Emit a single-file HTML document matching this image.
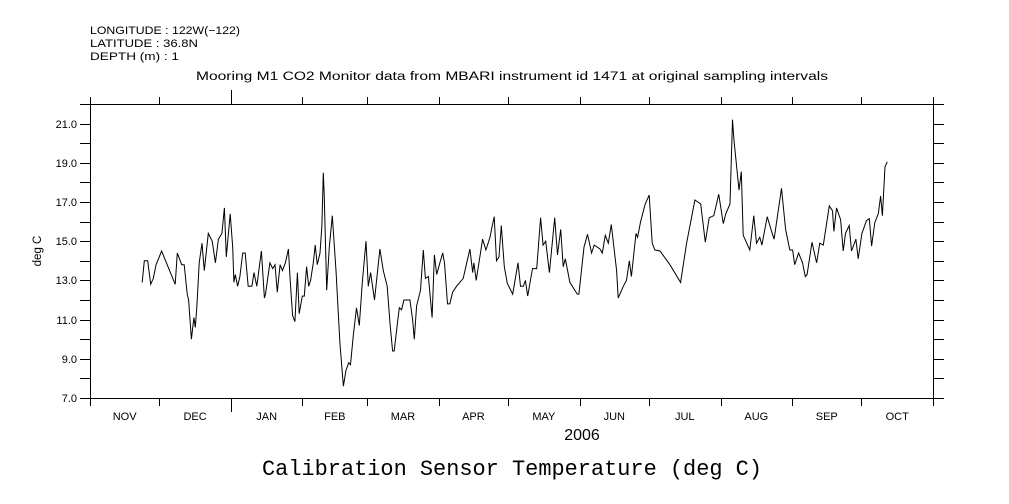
<!DOCTYPE html>
<html><head><meta charset="utf-8"><style>
body{margin:0;background:#fff;width:1009px;height:504px;overflow:hidden}
svg{display:block}
text{font-family:"Liberation Sans",sans-serif;fill:#000}
</style></head><body>
<svg id="chart" width="1009" height="504" viewBox="0 0 1009 504">
<text x="90" y="34" font-size="11" textLength="150" lengthAdjust="spacingAndGlyphs">LONGITUDE : 122W(−122)</text>
<text x="90" y="47" font-size="11" textLength="108" lengthAdjust="spacingAndGlyphs">LATITUDE : 36.8N</text>
<text x="90" y="60" font-size="11" textLength="89" lengthAdjust="spacingAndGlyphs">DEPTH (m) : 1</text>
<text x="196" y="80" font-size="11.5" textLength="632" lengthAdjust="spacingAndGlyphs">Mooring M1 CO2 Monitor data from MBARI instrument id 1471 at original sampling intervals</text>
<text x="41" y="251" font-size="11.5" text-anchor="middle" transform="rotate(-90 41 251)">deg C</text>
<text x="582" y="440" font-size="16" text-anchor="middle">2006</text>
<text x="262" y="475" font-size="22" textLength="500" lengthAdjust="spacingAndGlyphs" style="font-family:'Liberation Mono',monospace">Calibration Sensor Temperature (deg C)</text>
<g id="axes"></g>
<path id="series" fill="none" stroke="#000" stroke-width="1"/>
</svg>
<script>
const days=[22.6,23.5,25.0,26.3,27.4,28.6,31.0,36.9,37.8,39.7,40.8,42.1,42.7,43.9,45.0,45.6,46.3,47.3,48.5,49.5,51.2,52.9,54.3,55.6,57.1,58.2,59.0,60.7,61.8,62.3,62.9,63.9,64.9,66.1,67.2,68.5,70.1,71.0,72.2,74.2,75.5,76.0,77.9,79.1,80.1,81.1,82.3,83.3,84.6,85.9,86.7,87.7,88.7,89.8,90.6,91.9,92.8,93.8,94.7,95.5,96.7,97.5,98.4,99.6,100.4,101.0,101.4,102.5,103.6,104.9,106.5,108.2,109.7,110.8,112.0,112.8,114.0,115.4,116.6,117.9,119.5,120.5,121.5,123.2,125.5,127.0,128.7,129.9,131.0,131.7,132.8,133.9,134.9,135.9,137.4,138.5,139.7,140.4,141.4,143.1,144.3,145.2,146.5,148.1,149.1,150.1,151.5,152.7,153.5,154.8,155.8,157.0,158.7,161.6,164.5,165.7,166.2,167.2,170.0,171.4,173.2,174.0,175.0,176.0,177.1,178.1,179.4,180.7,183.0,185.3,186.4,187.6,188.5,189.5,191.6,193.4,195.1,196.2,197.3,198.9,201.2,202.4,203.8,204.9,205.8,207.8,211.0,211.7,213.9,215.4,217.2,218.3,220.8,221.8,223.1,224.4,225.7,228.0,228.7,230.9,232.3,233.5,234.4,236.4,237.1,238.4,240.4,242.1,243.4,244.6,246.8,251.1,255.7,258.3,261.9,264.4,266.4,268.1,270.1,272.2,274.2,275.3,277.1,278.2,278.8,281.0,282.0,282.8,285.7,287.4,288.6,290.0,290.9,293.2,295.1,296.2,299.4,301.2,303.0,304.2,305.1,306.8,308.5,309.7,310.5,312.6,314.6,316.0,317.5,320.1,321.5,322.1,323.2,325.0,326.1,327.1,328.7,329.7,331.6,332.6,334.2,336.2,337.4,338.4,339.8,341.3,342.3,343.1,344.2,345.2];
const temps=[12.9,14.0,14.0,12.8,13.1,13.8,14.5,12.8,14.4,13.8,13.8,12.3,12.0,10.0,11.1,10.6,11.7,13.9,14.9,13.5,15.4,15.0,13.9,15.1,15.4,16.7,14.2,16.4,14.7,12.9,13.3,12.7,13.2,14.4,14.4,12.7,12.7,13.4,12.7,14.5,12.1,12.3,13.9,13.6,13.8,12.4,13.8,13.5,13.9,14.6,13.0,11.2,10.9,13.4,11.3,12.2,12.2,13.7,12.7,13.0,13.9,14.8,13.8,14.4,15.8,18.5,17.4,12.5,14.7,16.3,13.5,9.8,7.6,8.4,8.8,8.7,10.2,11.6,10.7,12.9,15.0,12.7,13.4,12.0,14.6,13.5,12.7,10.8,9.4,9.4,10.5,11.6,11.5,12.0,12.0,12.0,11.0,10.0,11.7,12.5,14.55,13.1,13.2,11.1,14.3,13.3,13.9,14.4,13.9,11.8,11.8,12.4,12.7,13.1,14.6,13.4,13.9,13.0,15.1,14.55,15.2,15.7,16.25,14.0,14.2,15.8,13.7,12.85,12.3,13.9,12.7,12.7,13.0,12.2,13.6,13.6,16.2,14.8,15.0,13.4,16.2,14.3,15.6,13.7,14.1,12.9,12.3,12.3,14.7,15.35,14.4,14.8,14.6,14.4,15.3,14.9,15.85,13.5,12.1,12.7,13.0,14.0,13.2,15.4,15.2,16.0,16.9,17.35,14.9,14.55,14.5,13.8,12.9,14.9,17.1,16.9,14.95,16.2,16.3,17.4,15.9,16.4,16.9,21.2,20.2,17.6,18.55,15.3,14.55,16.3,14.9,15.2,14.8,16.25,15.5,15.1,17.7,15.6,14.55,14.55,13.8,14.4,13.9,13.2,13.3,14.95,13.9,14.9,14.8,16.8,16.55,15.5,16.7,16.1,14.5,15.4,15.8,14.5,15.1,14.1,15.4,16.05,16.15,14.75,15.95,16.4,17.3,16.3,18.8,19.05];
const monthLabels=["NOV","DEC","JAN","FEB","MAR","APR","MAY","JUN","JUL","AUG","SEP","OCT"];
const monthStarts=[0,30,61,92,120,151,181,212,242,273,304,334,365];
const yTickLabels=["7.0","9.0","11.0","13.0","15.0","17.0","19.0","21.0"];

const X0=90,X1=933,Y0=398,Y1=104,DMAX=365,VMIN=7,VMAX=22;
const xs=d=>X0+(X1-X0)*d/DMAX;
const ys=v=>Y0-(Y0-Y1)*(v-VMIN)/(VMAX-VMIN);
const NS="http://www.w3.org/2000/svg";
const ax=document.getElementById('axes');
function line(x1,y1,x2,y2,name){const l=document.createElementNS(NS,'line');
l.setAttribute('x1',x1);l.setAttribute('y1',y1);l.setAttribute('x2',x2);l.setAttribute('y2',y2);
l.setAttribute('stroke','#000');l.setAttribute('stroke-width','1');


ax.appendChild(l);}
function txt(x,y,s,anchor,name){const t=document.createElementNS(NS,'text');
t.setAttribute('x',x);t.setAttribute('y',y);t.setAttribute('font-size','11');t.setAttribute('text-anchor',anchor);t.textContent=s;


ax.appendChild(t);}
line(X0+.5,Y1,X0+.5,Y0,'y-axis-left');
line(X1+.5,Y1-4,X1+.5,Y0+5,'y-axis-right');
line(X0,Y1+.5,X1,Y1+.5,'x-axis-top');
line(X0,Y0+.5,X1,Y0+.5,'x-axis-bottom');
for(let v=VMIN;v<=VMAX;v++){const y=Math.round(ys(v))+.5;
line(X0-10,y,X0,y,'y-tick-left');line(X1,y,X1+11,y,'y-tick-right');}
yTickLabels.forEach(s=>{txt(X0-13,Math.round(ys(parseFloat(s)))+4,s,'end','y-tick-label');});
monthStarts.forEach((d,i)=>{const x=Math.round(xs(d))+.5;const big=(d===61);
line(x,Y0,x,Y0+(big?14:8),'x-tick-bottom');line(x,Y1-(big?14:7),x,Y1,'x-tick-top');});
monthLabels.forEach((m,i)=>{const xm=xs((monthStarts[i]+monthStarts[i+1])/2);txt(xm,Y0+22,m,'middle','x-tick-label');});
let dd='';days.forEach((d,i)=>{dd+=(i?'L':'M')+xs(d).toFixed(1)+' '+ys(temps[i]).toFixed(1);});
document.getElementById('series').setAttribute('d',dd);
</script>
</body></html>
